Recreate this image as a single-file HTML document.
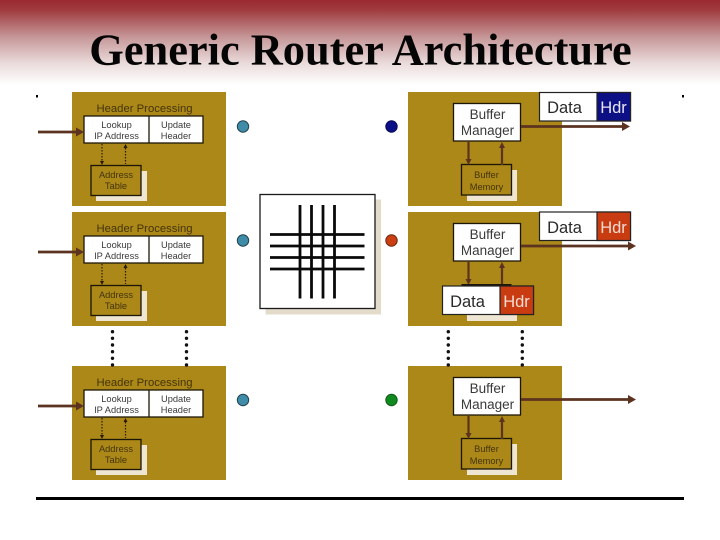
<!DOCTYPE html>
<html><head><meta charset="utf-8">
<style>
html,body{margin:0;padding:0;background:#fff;width:720px;height:540px;overflow:hidden}
svg{display:block}
text{font-family:"Liberation Sans",sans-serif}
</style></head>
<body>
<svg width="720" height="540" viewBox="0 0 720 540" xmlns="http://www.w3.org/2000/svg">
<defs>
<linearGradient id="bg" x1="0" y1="0" x2="0" y2="1">
<stop offset="0" stop-color="#9a2a30"/>
<stop offset="0.12" stop-color="#a03c40"/>
<stop offset="0.45" stop-color="#c79a9b"/>
<stop offset="0.75" stop-color="#ebdcdc"/>
<stop offset="1" stop-color="#ffffff"/>
</linearGradient>
<g id="lp">
<rect x="72" y="92" width="154" height="114" fill="#ab8817"/>
<text x="144.500" y="112" font-size="11.300" fill="#45340c" text-anchor="middle">Header Processing</text>
<rect x="84" y="116" width="119" height="27" fill="#fff" stroke="#1c1608" stroke-width="1.300"/>
<line x1="149" y1="116" x2="149" y2="143" stroke="#1c1608" stroke-width="1.300"/>
<text x="116.500" y="128" font-size="9.300" fill="#3a3a3a" text-anchor="middle">Lookup</text>
<text x="116.500" y="139" font-size="9.300" fill="#3a3a3a" text-anchor="middle">IP Address</text>
<text x="176" y="128" font-size="9.300" fill="#3a3a3a" text-anchor="middle">Update</text>
<text x="176" y="139" font-size="9.300" fill="#3a3a3a" text-anchor="middle">Header</text>
<rect x="96" y="171" width="51" height="30" fill="#eee6d2"/>
<rect x="91" y="165.500" width="50" height="30" fill="#ab8817" stroke="#1c1608" stroke-width="1.300"/>
<text x="116" y="178" font-size="9.300" fill="#45340c" text-anchor="middle">Address</text>
<text x="116" y="189" font-size="9.300" fill="#45340c" text-anchor="middle">Table</text>
<line x1="102" y1="144" x2="102" y2="161" stroke="#2a1a08" stroke-width="1.200" stroke-dasharray="1.500 1.500"/>
<polygon points="100,161 104,161 102,165" fill="#2a1a08"/>
<line x1="125.500" y1="148" x2="125.500" y2="164" stroke="#2a1a08" stroke-width="1.200" stroke-dasharray="1.500 1.500"/>
<polygon points="123.500,148 127.500,148 125.500,144" fill="#2a1a08"/>
<line x1="38" y1="132" x2="77" y2="132" stroke="#5c3320" stroke-width="2.700"/>
<polygon points="76,127.500 84,132 76,136.500" fill="#5c3320"/>
</g>
<g id="bm">
<rect x="453.500" y="103.500" width="67" height="37.500" fill="#fff" stroke="#1c1608" stroke-width="1.300"/>
<text x="487.500" y="119" font-size="13.500" fill="#3a3a3a" text-anchor="middle">Buffer</text>
<text x="487.500" y="135" font-size="13.500" fill="#3a3a3a" text-anchor="middle">Manager</text>
<line x1="468.500" y1="142" x2="468.500" y2="160" stroke="#5c3320" stroke-width="2.200"/>
<polygon points="465.500,159 471.500,159 468.500,165" fill="#5c3320"/>
<line x1="502" y1="147" x2="502" y2="165" stroke="#5c3320" stroke-width="2.200"/>
<polygon points="499,148 505,148 502,142" fill="#5c3320"/>
</g>
<g id="mem">
<rect x="467" y="170" width="50" height="31" fill="#eee6d2"/>
<rect x="461.500" y="164.500" width="50" height="30.500" fill="#ab8817" stroke="#1c1608" stroke-width="1.300"/>
<text x="486.500" y="178" font-size="9.300" fill="#45340c" text-anchor="middle">Buffer</text>
<text x="486.500" y="190" font-size="9.300" fill="#45340c" text-anchor="middle">Memory</text>
</g>
</defs>

<g style="filter:blur(0.3px)">
<rect x="0" y="0" width="720" height="85" fill="url(#bg)"/>
<text x="360.500" y="64.500" style="font-family:'Liberation Serif',serif" font-size="44.400" font-weight="bold" fill="#050505" text-anchor="middle">Generic Router Architecture</text>

<rect x="36" y="95" width="2" height="2.500" fill="#000"/>
<rect x="682" y="95" width="2" height="2.500" fill="#000"/>
<rect x="36" y="497" width="648" height="3" fill="#000"/>

<use href="#lp"/>
<use href="#lp" y="120"/>
<use href="#lp" y="274"/>

<!-- right panels -->
<rect x="408" y="92" width="154" height="114" fill="#ab8817"/>
<rect x="408" y="212" width="154" height="114" fill="#ab8817"/>
<rect x="408" y="366" width="154" height="114" fill="#ab8817"/>

<use href="#mem"/>
<use href="#bm"/>
<line x1="521" y1="126.500" x2="624" y2="126.500" stroke="#5c3320" stroke-width="2.700"/>
<polygon points="622,122 630,126.500 622,131" fill="#5c3320"/>
<rect x="539.500" y="92.500" width="91" height="28.500" fill="#fff" stroke="#222" stroke-width="1.200"/>
<rect x="597" y="92.500" width="33.500" height="28.500" fill="#0d1085" stroke="#222" stroke-width="1.200"/>
<text x="564.500" y="113" font-size="16.500" fill="#2a2a2a" text-anchor="middle">Data</text>
<text x="613.500" y="113" font-size="16.500" fill="#e6e6f2" text-anchor="middle">Hdr</text>

<rect x="467" y="300" width="50" height="21" fill="#eee6d2"/>
<use href="#bm" y="120"/>
<line x1="521" y1="246" x2="630" y2="246" stroke="#5c3320" stroke-width="2.700"/>
<polygon points="628,241.500 636,246 628,250.500" fill="#5c3320"/>
<rect x="539.500" y="212" width="91" height="28.500" fill="#fff" stroke="#222" stroke-width="1.200"/>
<rect x="597" y="212" width="33.500" height="28.500" fill="#c93c12" stroke="#222" stroke-width="1.200"/>
<text x="564.500" y="233" font-size="16.500" fill="#2a2a2a" text-anchor="middle">Data</text>
<text x="613.500" y="233" font-size="16.500" fill="#f4dcd2" text-anchor="middle">Hdr</text>

<rect x="461.500" y="284" width="50" height="4" fill="#1c1608"/>
<rect x="442.500" y="286" width="91" height="28.500" fill="#fff" stroke="#222" stroke-width="1.200"/>
<rect x="500" y="286" width="33.500" height="28.500" fill="#c93c12" stroke="#222" stroke-width="1.200"/>
<text x="467.500" y="307" font-size="16.500" fill="#2a2a2a" text-anchor="middle">Data</text>
<text x="516.500" y="307" font-size="16.500" fill="#f4dcd2" text-anchor="middle">Hdr</text>

<use href="#mem" y="274"/>
<use href="#bm" y="274"/>
<line x1="521" y1="399.500" x2="630" y2="399.500" stroke="#5c3320" stroke-width="2.700"/>
<polygon points="628,395 636,399.500 628,404" fill="#5c3320"/>

<!-- dots between panels -->
<g fill="#111">
<circle cx="112.500" cy="331.700" r="1.700"/><circle cx="112.500" cy="338.300" r="1.700"/><circle cx="112.500" cy="345" r="1.700"/><circle cx="112.500" cy="351.700" r="1.700"/><circle cx="112.500" cy="358.300" r="1.700"/><circle cx="112.500" cy="365" r="1.700"/>
<circle cx="186.500" cy="331.700" r="1.700"/><circle cx="186.500" cy="338.300" r="1.700"/><circle cx="186.500" cy="345" r="1.700"/><circle cx="186.500" cy="351.700" r="1.700"/><circle cx="186.500" cy="358.300" r="1.700"/><circle cx="186.500" cy="365" r="1.700"/>
<circle cx="448.300" cy="331.700" r="1.700"/><circle cx="448.300" cy="338.300" r="1.700"/><circle cx="448.300" cy="345" r="1.700"/><circle cx="448.300" cy="351.700" r="1.700"/><circle cx="448.300" cy="358.300" r="1.700"/><circle cx="448.300" cy="365" r="1.700"/>
<circle cx="522.300" cy="331.700" r="1.700"/><circle cx="522.300" cy="338.300" r="1.700"/><circle cx="522.300" cy="345" r="1.700"/><circle cx="522.300" cy="351.700" r="1.700"/><circle cx="522.300" cy="358.300" r="1.700"/><circle cx="522.300" cy="365" r="1.700"/>
</g>

<!-- crossbar -->
<rect x="265.500" y="199.500" width="115.500" height="115" fill="#e3dccb"/>
<rect x="260" y="194.500" width="115" height="114" fill="#fff" stroke="#1a1a1a" stroke-width="1.300"/>
<g stroke="#0a0a0a" stroke-width="2.800">
<line x1="300" y1="205" x2="300" y2="298.500"/>
<line x1="311.500" y1="205" x2="311.500" y2="298.500"/>
<line x1="323" y1="205" x2="323" y2="298.500"/>
<line x1="334.500" y1="205" x2="334.500" y2="298.500"/>
<line x1="270" y1="234.500" x2="364.500" y2="234.500"/>
<line x1="270" y1="246" x2="364.500" y2="246"/>
<line x1="270" y1="257.500" x2="364.500" y2="257.500"/>
<line x1="270" y1="269" x2="364.500" y2="269"/>
</g>

<!-- port circles -->
<g stroke="#24424e" stroke-width="1">
<circle cx="243" cy="126.500" r="5.700" fill="#3f8ca8"/>
<circle cx="243" cy="240.500" r="5.700" fill="#3f8ca8"/>
<circle cx="243" cy="400" r="5.700" fill="#3f8ca8"/>
</g>
<circle cx="391.500" cy="126.500" r="5.700" fill="#0b0f88" stroke="#0a0c50"/>
<circle cx="391.500" cy="240.500" r="5.700" fill="#cc3f12" stroke="#6a2a10"/>
<circle cx="391.500" cy="400" r="5.700" fill="#0f8a1c" stroke="#145a1a"/>
</g>
</svg>
</body></html>
